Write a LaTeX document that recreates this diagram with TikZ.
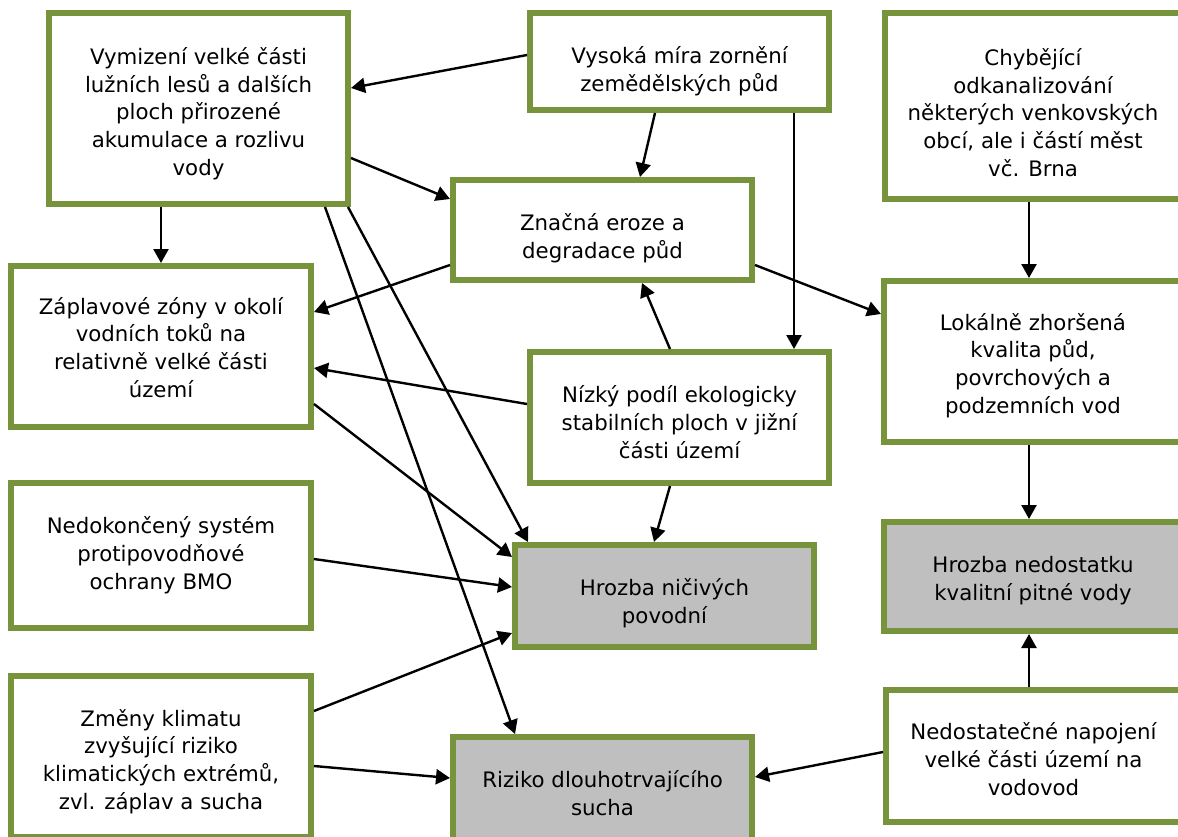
\documentclass[tikz,border=0pt]{standalone}
\usepackage{fontspec}
\setmainfont{DejaVu Sans}
\usetikzlibrary{calc,arrows.meta}
\definecolor{boxgreen}{HTML}{77933C}
\definecolor{boxgray}{HTML}{BFBFBF}
\begin{document}
\begin{tikzpicture}[x=1pt,y=-1pt,
  box/.style={draw=boxgreen,line width=6pt,fill=white,inner sep=0pt},
  graybox/.style={box,fill=boxgray},
  txt/.style={anchor=base,align=center,inner sep=0pt,font=\fontsize{21.3}{27.6}\selectfont},
  arr/.style={line width=2.4pt,-{Triangle[length=14pt,width=15pt]}}]
\useasboundingbox (0,0) rectangle (1178,836);
\clip (0,0) rectangle (1178,836);
\fill[white] (0,0) rectangle (1178,836);
% boxes
\node[box,minimum width=299pt,minimum height=191pt] (A) at (198.5,108.5) {};
\node[box,minimum width=299pt,minimum height=97pt] (B) at (679.5,61.5) {};
\node[box,minimum width=296pt,minimum height=186pt] (C) at (1033,106) {};
\node[box,minimum width=299pt,minimum height=100pt] (D) at (602.5,230) {};
\node[box,minimum width=300pt,minimum height=161pt] (E) at (161,346.5) {};
\node[box,minimum width=297pt,minimum height=161pt] (F) at (1032.5,361.5) {};
\node[box,minimum width=299pt,minimum height=131pt] (G) at (679.5,417.5) {};
\node[box,minimum width=300pt,minimum height=145pt] (H) at (161,555.5) {};
\node[graybox,minimum width=299pt,minimum height=102pt] (I) at (664.5,596) {};
\node[graybox,minimum width=297pt,minimum height=109pt] (J) at (1032.5,576.5) {};
\node[box,minimum width=300pt,minimum height=161pt] (K) at (161,756.5) {};
\node[graybox,minimum width=299pt,minimum height=106pt] (L) at (602.5,790) {};
\node[box,minimum width=295pt,minimum height=132pt] (M) at (1033.5,756) {};
% texts (anchored at the baseline of the last line)
\node[txt] (At) at (198.5,175) {Vymizení velké části\\lužních lesů a dalších\\ploch přirozené\\akumulace a rozlivu\\vody};
\node[txt] (Bt) at (679.5,91) {Vysoká míra zornění\\zemědělských půd};
\node[txt] (Ct) at (1033,176) {Chybějící\\odkanalizování\\některých venkovských\\obcí, ale i částí měst\\vč. Brna};
\node[txt] (Dt) at (602.5,258) {Značná eroze a\\degradace půd};
\node[txt] (Et) at (161,397) {Záplavové zóny v okolí\\vodních toků na\\relativně velké části\\území};
\node[txt] (Ft) at (1033,413) {Lokálně zhoršená\\kvalita půd,\\povrchových a\\podzemních vod};
\node[txt] (Gt) at (679.5,458) {Nízký podíl ekologicky\\stabilních ploch v jižní\\části území};
\node[txt] (Ht) at (161,589) {Nedokončený systém\\protipovodňové\\ochrany BMO};
\node[txt] (It) at (664.5,623) {Hrozba ničivých\\povodní};
\node[txt] (Jt) at (1033,600) {Hrozba nedostatku\\kvalitní pitné vody};
\node[txt] (Kt) at (161,809) {Změny klimatu\\zvyšující riziko\\klimatických extrémů,\\zvl. záplav a sucha};
\node[txt] (Lt) at (602.5,815) {Riziko dlouhotrvajícího\\sucha};
\node[txt] (Mt) at (1033.5,795) {Nedostatečné napojení\\velké části území na\\vodovod};
% connectors
\draw[arr] ($(B.north west)+(0,45)$) -- ($(A.north east)+(0,78)$);
\draw[arr] ($(B.south west)+(128,0)$) -- ($(D.north west)+(190,0)$);
\draw[arr] ($(B.south west)+(267,0)$) -- ($(G.north west)+(267,0)$);
\draw[arr] ($(A.north east)+(0,148)$) -- ($(D.north west)+(0,22)$);
\draw[arr] ($(A.south west)+(115,0)$) -- (E.north);
\draw[arr] ($(A.south east)+(-3,0)$) -- ($(I.north west)+(16,0)$);
\draw[arr] ($(A.south east)+(-26,0)$) -- ($(L.north west)+(65,0)$);
\draw[arr] ($(D.north west)+(0,88)$) -- ($(E.north east)+(0,49)$);
\draw[arr] ($(D.north east)+(0,88)$) -- ($(F.north west)+(0,36)$);
\draw[arr] ($(G.north west)+(143,0)$) -- ($(D.south west)+(192,0)$);
\draw[arr] ($(G.north west)+(0,55)$) -- ($(E.north east)+(0,105)$);
\draw[arr] ($(G.south west)+(143,0)$) -- ($(I.north west)+(142,0)$);
\draw[arr] ($(E.north east)+(0,141)$) -- ($(I.north west)+(0,15)$);
\draw[arr] ($(H.north east)+(0,79)$) -- ($(I.north west)+(0,45)$);
\draw[arr] ($(K.north east)+(0,38)$) -- ($(I.north west)+(0,91)$);
\draw[arr] ($(K.north east)+(0,93)$) -- ($(L.north west)+(0,44)$);
\draw[arr] ($(C.south west)+(147,0)$) -- ($(F.north west)+(148,0)$);
\draw[arr] ($(F.south west)+(148,0)$) -- ($(J.north west)+(148,0)$);
\draw[arr] ($(M.north west)+(146,0)$) -- ($(J.south west)+(148,0)$);
\draw[arr] ($(M.north west)+(0,65)$) -- ($(L.north east)+(0,43)$);
\end{tikzpicture}
\end{document}
